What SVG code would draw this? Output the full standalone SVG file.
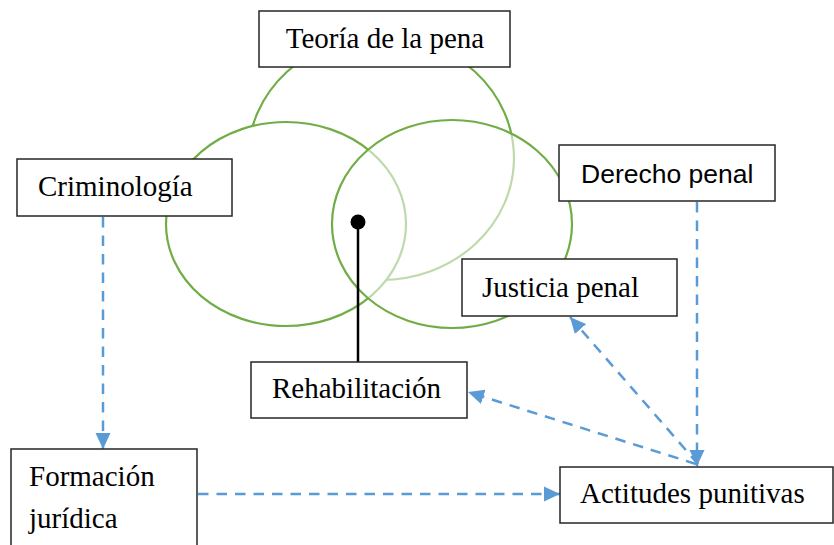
<svg xmlns="http://www.w3.org/2000/svg" width="834" height="545" viewBox="0 0 834 545">
<defs>
<style>
.box{fill:#fff;stroke:#262626;stroke-width:1.5}
.ser{font-family:"Liberation Serif","Times New Roman",serif;font-size:29px;fill:#000}
.san{font-family:"Liberation Sans",Arial,sans-serif;font-size:26.5px;fill:#000}
.ell{stroke:#70AD47;stroke-width:2.2}
.dash{fill:none;stroke:#5B9BD5;stroke-width:2.5;stroke-dasharray:10.5 8}
</style>
<marker id="ah" markerUnits="userSpaceOnUse" markerWidth="16" markerHeight="16" viewBox="0 0 16 16" refX="16" refY="8" orient="auto">
<path d="M0,0.5 L16,8 L0,15.5 Z" fill="#5B9BD5"/>
</marker>
</defs>
<rect width="834" height="545" fill="#fff"/>
<g id="venn">
<ellipse class="ell" cx="381" cy="158" rx="133" ry="122" fill="none"/>
<ellipse class="ell" cx="286" cy="224" rx="120" ry="102" fill="#fff"/>
<ellipse class="ell" cx="452" cy="224" rx="120" ry="104" fill="#fff" fill-opacity="0.55"/>
</g>
<g id="connectors">
<line class="dash" x1="103" y1="217" x2="103" y2="449" marker-end="url(#ah)"/>
<line class="dash" x1="198" y1="494" x2="560" y2="494" marker-end="url(#ah)"/>
<line class="dash" x1="697" y1="202" x2="697" y2="466" marker-end="url(#ah)"/>
<line class="dash" x1="698" y1="464" x2="570" y2="317" marker-end="url(#ah)"/>
<line class="dash" x1="696" y1="464" x2="468" y2="392" marker-end="url(#ah)"/>
<line x1="358" y1="222" x2="358" y2="362" stroke="#000" stroke-width="2.5"/>
<circle cx="358" cy="222" r="7.5" fill="#000"/>
</g>
<g id="teoria">
<rect class="box" x="259" y="11" width="251" height="56"/>
<text class="ser" x="385" y="48" text-anchor="middle">Teoría de la pena</text>
</g>
<g id="criminologia">
<rect class="box" x="17" y="159" width="215" height="57"/>
<text class="ser" x="38" y="196">Criminología</text>
</g>
<g id="derecho">
<rect class="box" x="559" y="145" width="216" height="56"/>
<text class="san" x="581" y="183">Derecho penal</text>
</g>
<g id="justicia">
<rect class="box" x="462" y="259" width="215" height="57"/>
<text class="ser" x="482" y="297">Justicia penal</text>
</g>
<g id="rehabilitacion">
<rect class="box" x="251" y="362" width="216" height="56"/>
<text class="ser" x="272" y="398">Rehabilitación</text>
</g>
<g id="formacion">
<rect class="box" x="11" y="449" width="186" height="120"/>
<text class="ser" x="29" y="486">Formación</text>
<text class="ser" x="29" y="528">jurídica</text>
</g>
<g id="actitudes">
<rect class="box" x="560" y="467" width="273" height="56"/>
<text class="ser" x="580" y="503">Actitudes punitivas</text>
</g>
</svg>
